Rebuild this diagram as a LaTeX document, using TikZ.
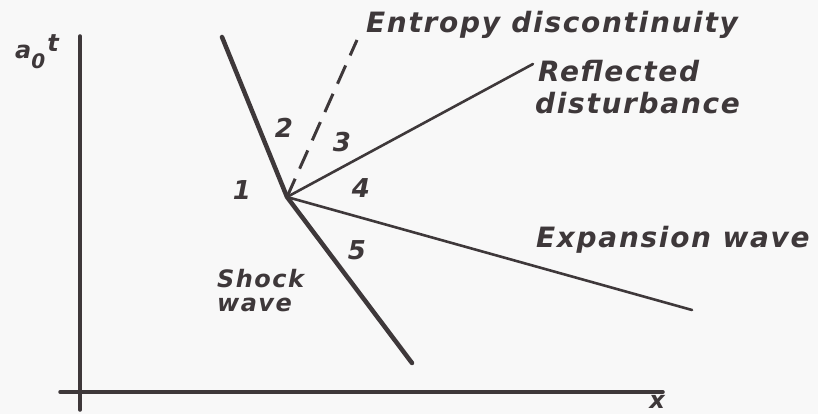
\documentclass[tikz,border=0pt]{standalone}
\usepackage{fontspec}
\setmainfont{DejaVu Sans}[BoldItalicFont={DejaVu Sans Bold Oblique}]
\newfontfamily\lbl{DejaVu Sans Bold Oblique}[LetterSpace=6]
\definecolor{ink}{RGB}{62,56,58}
\definecolor{paper}{RGB}{248,248,248}
\begin{document}
\begin{tikzpicture}[x=1pt,y=-1pt,
  txt/.style={font=\lbl\fontsize{28}{32}\selectfont,text=ink,inner sep=0pt},
  stxt/.style={font=\lbl\fontsize{24}{28}\selectfont,text=ink,inner sep=0pt},
  num/.style={font=\lbl\fontsize{26}{30}\selectfont,text=ink,inner sep=0pt},
  axis/.style={draw=ink,line width=3.5pt,line cap=round},
  shock/.style={draw=ink,line width=4.5pt,line cap=round},
  thin/.style={draw=ink,line width=2.6pt,line cap=round},
  dsh/.style={draw=ink,line width=3pt,dash pattern=on 20pt off 11pt}]
\fill[paper] (0,0) rectangle (818,414);
\useasboundingbox (0,0) rectangle (818,414);
% axes
\coordinate (yb) at (80,410);
\coordinate (yt) at (80,36);
\coordinate (xl) at (60,392);
\coordinate (xr) at (663,392);
\draw[axis] (yb) -- (yt);
\draw[axis] (xl) -- (xr);
\node[stxt,anchor=center] (xlab) at (657,402) {x};
\node[stxt,anchor=center] (ylab) at (37,52) {a\raisebox{-10pt}{\fontsize{20}{24}\selectfont 0}\kern2pt\raisebox{7pt}{t}};
% waves
\coordinate (top) at (222,37);
\coordinate (j) at (287,197);
\coordinate (bot) at (412,363);
\coordinate (ent) at (357,40);
\coordinate (ref) at (533,64);
\coordinate (exp) at (692,310);
\draw[shock] (top) -- (j) -- (bot);
\draw[dsh] (j) -- (ent);
\draw[thin] (j) -- (ref);
\draw[thin] (j) -- (exp);
% labels
\node[txt,anchor=west] (lent) at (366,25) {Entropy discontinuity};
\node[txt,anchor=west] (lref1) at (538,71) {Reflected};
\node[txt,anchor=west] (lref2) at (535,103) {disturbance};
\node[txt,anchor=west] (lexp) at (536,240) {Expansion wave};
\node[stxt,anchor=west] (lsh1) at (217,279) {Shock};
\node[stxt,anchor=west] (lsh2) at (217,305) {wave};
\node[num] (n1) at (242,190) {1};
\node[num] (n2) at (284,128) {2};
\node[num] (n3) at (342,142) {3};
\node[num] (n4) at (361,188) {4};
\node[num] (n5) at (357,250) {5};
\end{tikzpicture}
\end{document}
